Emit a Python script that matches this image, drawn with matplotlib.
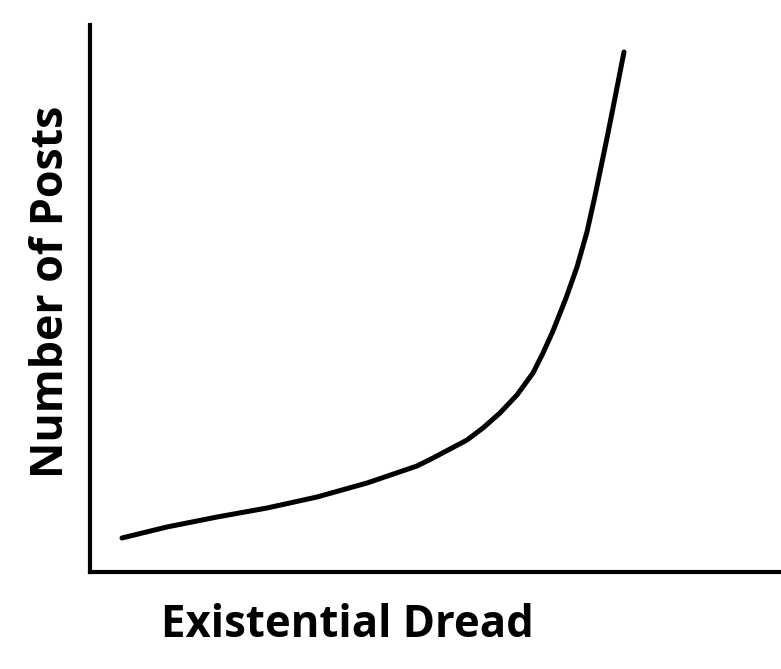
import matplotlib.pyplot as plt

# Curve (arbitrary 0-100 units on both axes)
dread = [4.63, 11.14, 18.38, 25.62, 32.85, 40.09, 47.32, 49.64, 54.56, 56.87,
         59.33, 61.79, 64.11, 65.56, 67.00, 68.89, 70.48, 71.92, 73.08, 73.95,
         74.82, 75.83, 77.28]
posts = [6.22, 8.23, 10.05, 11.70, 13.71, 16.27, 19.38, 20.84, 24.13, 26.33,
         29.07, 32.36, 36.38, 40.04, 44.06, 50.09, 55.76, 62.16, 68.74, 74.04,
         79.34, 85.74, 95.06]

W, H = 781, 669
fig = plt.figure(figsize=(W / 100, H / 100), dpi=100)
ax = fig.add_axes([90 / W, (H - 572) / H, 691 / W, (572 - 25) / H])
ax.set_xlim(0, 100)
ax.set_ylim(0, 100)

ax.plot(dread, posts, color="black", linewidth=3.6,
        solid_capstyle="round", solid_joinstyle="round")

for side in ["top", "right"]:
    ax.spines[side].set_visible(False)
for side in ["left", "bottom"]:
    ax.spines[side].set_linewidth(3.0)
    ax.spines[side].set_color("black")
ax.set_xticks([])
ax.set_yticks([])

font = dict(family="Open Sans", fontweight="bold")
fig.text(347 / W, (H - 637) / H, "Existential Dread", ha="center",
         va="baseline", fontsize=31.5, **font)
fig.text(63 / W, (H - 292) / H, "Number of Posts", rotation=90,
         rotation_mode="anchor", ha="center", va="baseline", fontsize=32.2,
         **font)

fig.savefig("out.png", dpi=100)
